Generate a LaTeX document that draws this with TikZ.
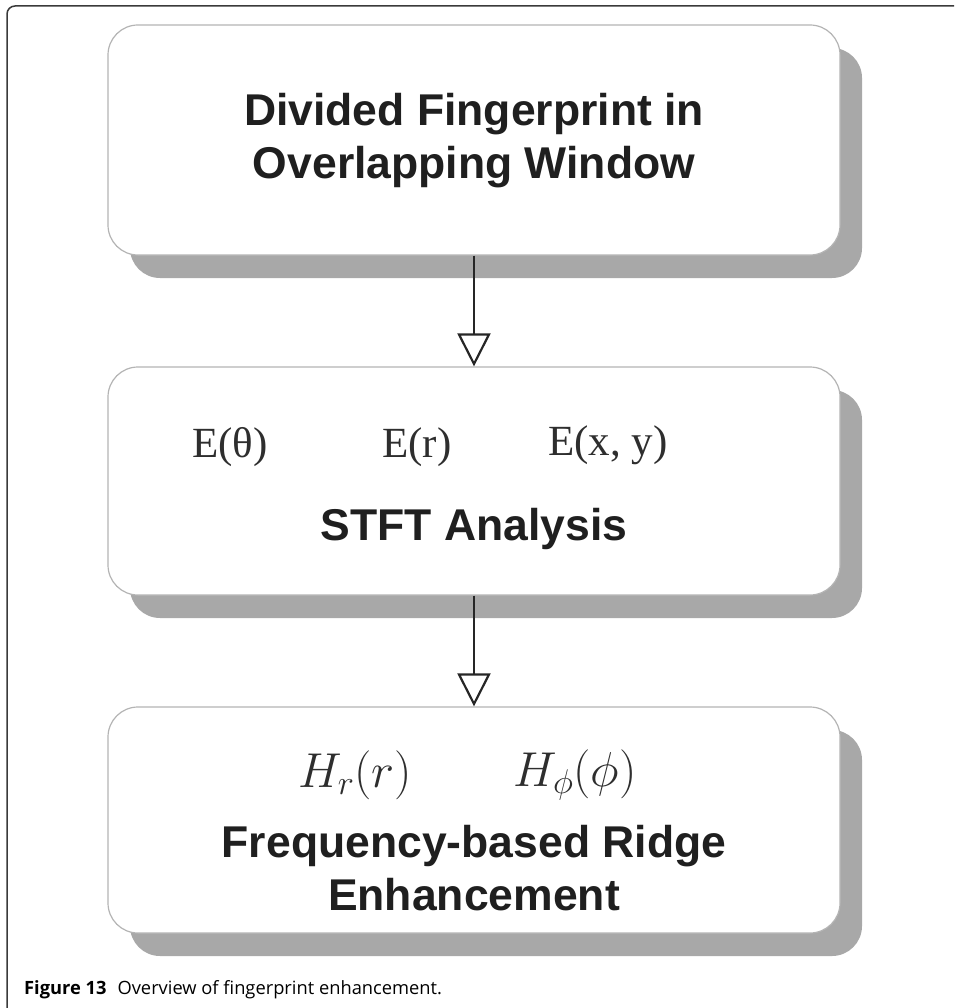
\RequirePackage{fix-cm}
\documentclass[tikz,border=0pt]{standalone}
\usepackage{fontspec}
\usetikzlibrary{arrows.meta,shadows}
\newfontfamily\boxfont{Liberation Sans}
\newfontfamily\eqfont{Liberation Serif}
\newfontfamily\capfont{Open Sans}
\definecolor{shadowgray}{HTML}{A8A8A8}
\definecolor{boxedge}{HTML}{B4B4B4}
\definecolor{framegray}{HTML}{3A3A3A}
\tikzset{
  stagebox/.style={draw=boxedge, line width=1.2pt, fill=white, rounded corners=30pt,
    minimum width=732pt, inner sep=0pt,
    general shadow={shadow xshift=22pt, shadow yshift=-23pt, fill=shadowgray, rounded corners=30pt}},
  title/.style={font=\boxfont\bfseries\fontsize{44.5}{53}\selectfont, align=center, text=black!88},
  eq/.style={font=\eqfont\fontsize{43}{50}\selectfont, text=black!82},
  meq/.style={font=\fontsize{49}{55}\selectfont, text=black!82},
  flow/.style={line width=2.2pt, draw=black!85, -{Triangle[open, width=33pt, length=33pt, line width=2.2pt]}}
}
\begin{document}
\begin{tikzpicture}[x=1pt,y=-1pt]
\useasboundingbox (0,0) rectangle (954,1008);
% frame
\draw[framegray, line width=1.5pt, rounded corners=8pt] (7,1008) -- (7,6) -- (954,6);
% boxes
\node[stagebox, minimum height=230pt] (b1) at (474,140) {};
\node[stagebox, minimum height=228pt] (b2) at (474,481) {};
\node[stagebox, minimum height=226pt] (b3) at (474,820) {};
% texts
\node[title] (t1) at (474,141) {Divided Fingerprint in\\Overlapping Window};
\node[eq] (e1) at (230,447) {E(θ)};
\node[eq] (e2) at (417,447) {E(r)};
\node[eq] (e3) at (608,445) {E(x, y)};
\node[title] (t2) at (474,529) {STFT Analysis};
\node[meq] (h1) at (355,775) {$H_r(r)$};
\node[meq] (h2) at (575,775) {$H_\phi(\phi)$};
\node[title] (t3) at (474,868) {Frequency-based Ridge\\Enhancement};
% arrows
\draw[flow] (b1.south) -- (b2.north);
\draw[flow] (b2.south) -- (b3.north);
% caption
\node[anchor=base west, font=\capfont\fontsize{18.3}{21}\selectfont, inner sep=0pt] (cap) at (24,994) {\textbf{Figure 13}\hspace{0.6em}Overview of fingerprint enhancement.};
\end{tikzpicture}
\end{document}
